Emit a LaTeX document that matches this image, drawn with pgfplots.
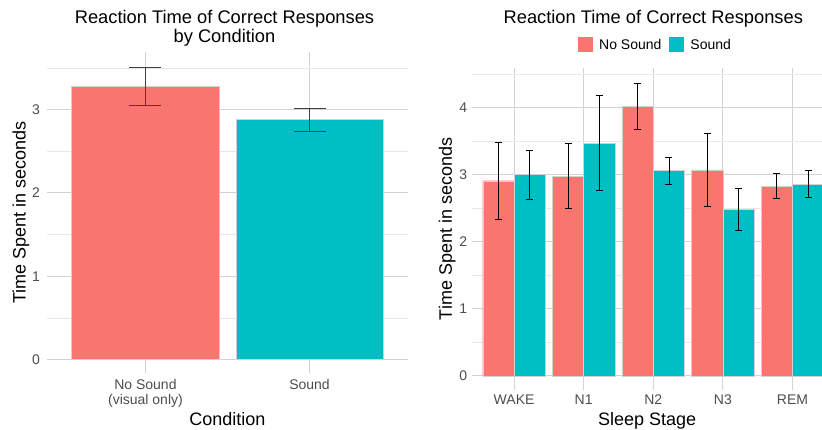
\documentclass[border=0pt]{standalone}
\usepackage{fontspec}
\setmainfont{Liberation Sans}
\usepackage{pgfplots}
\pgfplotsset{compat=1.18}
\definecolor{nosound}{HTML}{F8766D}
\definecolor{sound}{HTML}{00BFC4}
\definecolor{gridmaj}{HTML}{D2D2D2}
\definecolor{gridmin}{HTML}{E8E8E8}
\definecolor{ticktxt}{HTML}{4D4D4D}

\pgfplotsset{
  ggstyle/.style={
    scale only axis,
    axis line style={draw=none},
    major tick length=0pt, minor tick length=0pt,
    grid=both,
    major grid style={gridmaj, line width=1.1pt},
    minor grid style={gridmin, line width=0.6pt},
    ticklabel style={font=\fontsize{14}{15}\selectfont, text=ticktxt},
    /pgf/number format/assume math mode=true,
  },
  sqlegend/.style={legend image code/.code={\fill[##1, draw=none] (0pt,-6.5pt) rectangle (15pt,8.5pt);}},
}

\begin{document}
\begin{tikzpicture}
\path[use as bounding box] (0pt,0pt) rectangle (822pt,429pt);

% left panel
\node[font=\fontsize{18.3}{20}\selectfont, anchor=base] at (224.5pt,405.7pt) {Reaction Time of Correct Responses};
\node[font=\fontsize{18.3}{20}\selectfont, anchor=base] at (224.5pt,386.3pt) {by Condition};
\begin{axis}[ggstyle,
  at={(47pt,56pt)}, anchor=south west, width=361pt, height=321pt,
  xmin=0.4, xmax=2.6, ymin=-0.16, ymax=3.69,
  xtick={1,2}, xticklabels={{No Sound\\(visual only)},{Sound}},
  xticklabel style={align=center, anchor=north, inner ysep=0pt, yshift=-6pt},
  yticklabel style={anchor=east, inner xsep=0pt, xshift=-7pt},
  ytick={0,1,2,3}, minor ytick={0.5,1.5,2.5,3.5},
  xlabel={Condition}, ylabel={Time Spent in seconds},
  every axis x label/.style={at={(axis description cs:0.5,-0.162)}, anchor=base, font=\fontsize{18}{20}\selectfont},
  every axis y label/.style={at={(axis description cs:-0.072,0.5)}, rotate=90, anchor=center, font=\fontsize{18}{20}\selectfont},
]
\addplot[ybar, bar width=0.9, bar shift=0, fill=nosound, draw=gray!35, line width=0.4pt] coordinates {(1,3.28)};
\addplot[ybar, bar width=0.9, bar shift=0, fill=sound, draw=gray!35, line width=0.4pt] coordinates {(2,2.88)};
\addplot[draw=none, forget plot, error bars/.cd, y dir=both, y explicit,
  error bar style={draw=black!75, line width=0.7pt},
  error mark options={rotate=90, draw=black!75, line width=0.7pt, mark size=16pt}]
  coordinates {(1,3.28) +- (0,0.23) (2,2.88) +- (0,0.14)};
\end{axis}

% right panel
\node[font=\fontsize{18.3}{20}\selectfont, anchor=base] at (653.3pt,405.7pt) {Reaction Time of Correct Responses};
\begin{axis}[ggstyle,
  at={(472.3pt,39pt)}, anchor=south west, width=349.7pt, height=322pt,
  xmin=0.4, xmax=5.424, ymin=-0.21, ymax=4.59,
  xtick={1,2,3,4,5}, xticklabels={WAKE,N1,N2,N3,REM},
  xticklabel style={anchor=north, inner ysep=0pt, yshift=-5pt},
  yticklabel style={anchor=east, inner xsep=0pt, xshift=-5pt},
  ytick={0,1,2,3,4}, minor ytick={0.5,1.5,2.5,3.5,4.5},
  xlabel={Sleep Stage}, ylabel={Time Spent in seconds},
  every axis x label/.style={at={(axis description cs:0.5,-0.109)}, anchor=base, font=\fontsize{18}{20}\selectfont},
  every axis y label/.style={at={(axis description cs:-0.072,0.5)}, rotate=90, anchor=center, font=\fontsize{18}{20}\selectfont},
  legend columns=2,
  legend style={at={(axis description cs:0.524,1.071)}, anchor=center, draw=none, fill=none,
    font=\fontsize{14}{15}\selectfont, inner sep=0pt,
    /tikz/every odd column/.append style={column sep=4pt},
    /tikz/every even column/.append style={column sep=6pt}},
]
\addplot[ybar, sqlegend, bar width=0.45, bar shift=-0.225, fill=nosound, draw=gray!35, line width=0.4pt]
  coordinates {(1,2.91) (2,2.98) (3,4.02) (4,3.07) (5,2.83)};
\addlegendentry{No Sound}
\addplot[ybar, sqlegend, bar width=0.45, bar shift=0.225, fill=sound, draw=gray!35, line width=0.4pt]
  coordinates {(1,3.00) (2,3.47) (3,3.06) (4,2.48) (5,2.86)};
\addlegendentry{Sound}
\addplot[draw=none, forget plot, error bars/.cd, y dir=both, y explicit,
  error bar style={draw=black, line width=0.7pt},
  error mark options={rotate=90, draw=black, line width=0.7pt, mark size=3.5pt}]
  coordinates {(0.775,2.91) +- (0,0.57) (1.775,2.98) +- (0,0.485) (2.775,4.02) +- (0,0.345)
               (3.775,3.07) +- (0,0.545) (4.775,2.83) +- (0,0.19)};
\addplot[draw=none, forget plot, error bars/.cd, y dir=both, y explicit,
  error bar style={draw=black, line width=0.7pt},
  error mark options={rotate=90, draw=black, line width=0.7pt, mark size=3.5pt}]
  coordinates {(1.225,3.00) +- (0,0.365) (2.225,3.47) +- (0,0.71) (3.225,3.06) +- (0,0.20)
               (4.225,2.48) +- (0,0.31) (5.225,2.86) +- (0,0.205)};
\end{axis}
\end{tikzpicture}
\end{document}
